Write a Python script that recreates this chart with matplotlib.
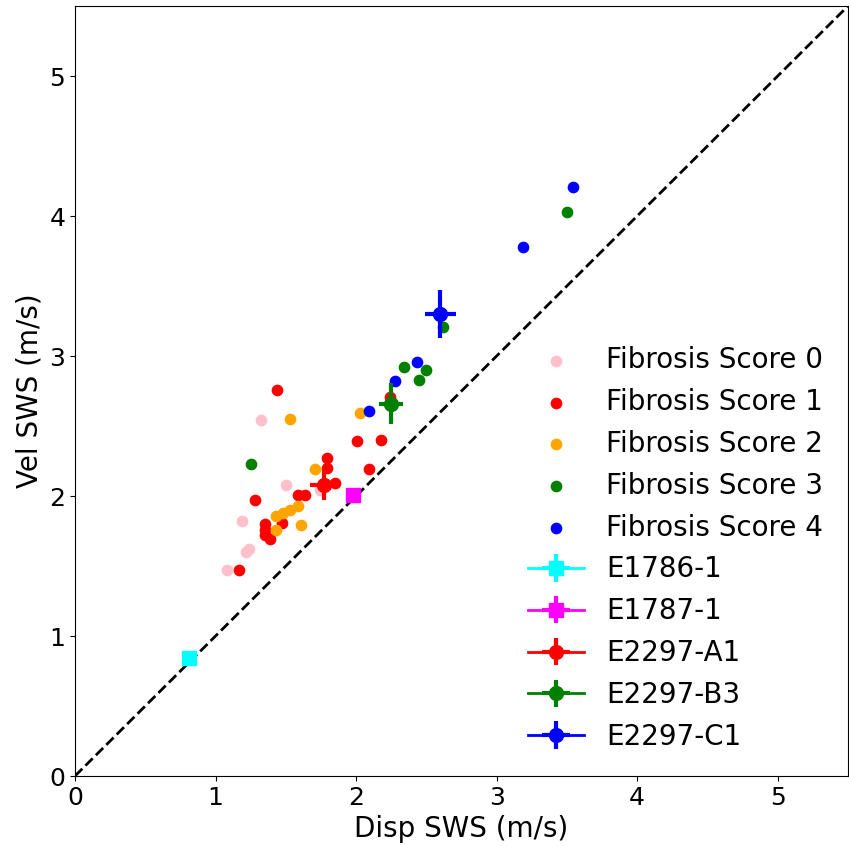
import matplotlib
matplotlib.use("Agg")
import matplotlib.pyplot as plt

# per-sample shear wave speeds, grouped by fibrosis score
score0_disp = [1.32, 1.50, 1.19, 1.22, 1.24, 1.08, 1.74]
score0_vel = [2.54, 2.08, 1.82, 1.60, 1.62, 1.47, 2.04]

score1_disp = [1.44, 1.28, 1.35, 1.35, 1.35, 1.39, 1.47, 1.59, 1.64,
               1.17, 1.85, 1.79, 1.79, 2.01, 2.18, 2.09, 2.24]
score1_vel = [2.76, 1.97, 1.80, 1.76, 1.72, 1.69, 1.81, 2.01, 2.01,
              1.47, 2.09, 2.20, 2.27, 2.39, 2.40, 2.19, 2.71]

score2_disp = [1.53, 1.43, 1.48, 1.53, 1.59, 1.43, 1.61, 1.71, 2.03]
score2_vel = [2.55, 1.86, 1.88, 1.90, 1.93, 1.76, 1.79, 2.19, 2.59]

score3_disp = [1.25, 2.34, 2.50, 2.45, 2.62, 3.50]
score3_vel = [2.23, 2.92, 2.90, 2.83, 3.21, 4.03]

score4_disp = [2.09, 2.28, 2.43, 3.19, 3.54]
score4_vel = [2.61, 2.82, 2.96, 3.78, 4.21]

scores = [
    ("Fibrosis Score 0", "pink", score0_disp, score0_vel),
    ("Fibrosis Score 1", "red", score1_disp, score1_vel),
    ("Fibrosis Score 2", "orange", score2_disp, score2_vel),
    ("Fibrosis Score 3", "green", score3_disp, score3_vel),
    ("Fibrosis Score 4", "blue", score4_disp, score4_vel),
]

# phantom / specimen means with std
sample_names = ["E1786-1", "E1787-1", "E2297-A1", "E2297-B3", "E2297-C1"]
sample_colors = ["cyan", "magenta", "red", "green", "blue"]
sample_markers = ["s", "s", "o", "o", "o"]
sample_disp = [0.81, 1.975, 1.77, 2.25, 2.60]
sample_vel = [0.84, 2.01, 2.08, 2.66, 3.30]
sample_disp_err = [0.02, 0.02, 0.10, 0.085, 0.11]
sample_vel_err = [0.02, 0.02, 0.11, 0.145, 0.17]

fig = plt.figure(figsize=(8.49, 8.46), dpi=100)
ax = fig.add_axes([75 / 849, 70 / 846, 773 / 849, 770 / 846])

for label, color, xs, ys in scores:
    ax.scatter(xs, ys, s=55, color=color, label=label, zorder=3)

for name, c, m, x, y, xe, ye in zip(sample_names, sample_colors, sample_markers,
                                    sample_disp, sample_vel,
                                    sample_disp_err, sample_vel_err):
    ax.errorbar(x, y, xerr=xe, yerr=ye, fmt=m + "-", color=c, markersize=10,
                linewidth=2, elinewidth=3, label=name, zorder=4)

ax.plot([0, 5.5], [0, 5.5], "k--", linewidth=2, zorder=2)

ax.set_xlim(0, 5.5)
ax.set_ylim(0, 5.5)
ax.set_xticks([0, 1, 2, 3, 4, 5])
ax.set_yticks([0, 1, 2, 3, 4, 5])
ax.tick_params(labelsize=18)
ax.set_xlabel("Disp SWS (m/s)", fontsize=20)
ax.set_ylabel("Vel SWS (m/s)", fontsize=20)

ax.legend(loc="lower right", fontsize=20, frameon=False)

fig.savefig("out.png", dpi=100)
